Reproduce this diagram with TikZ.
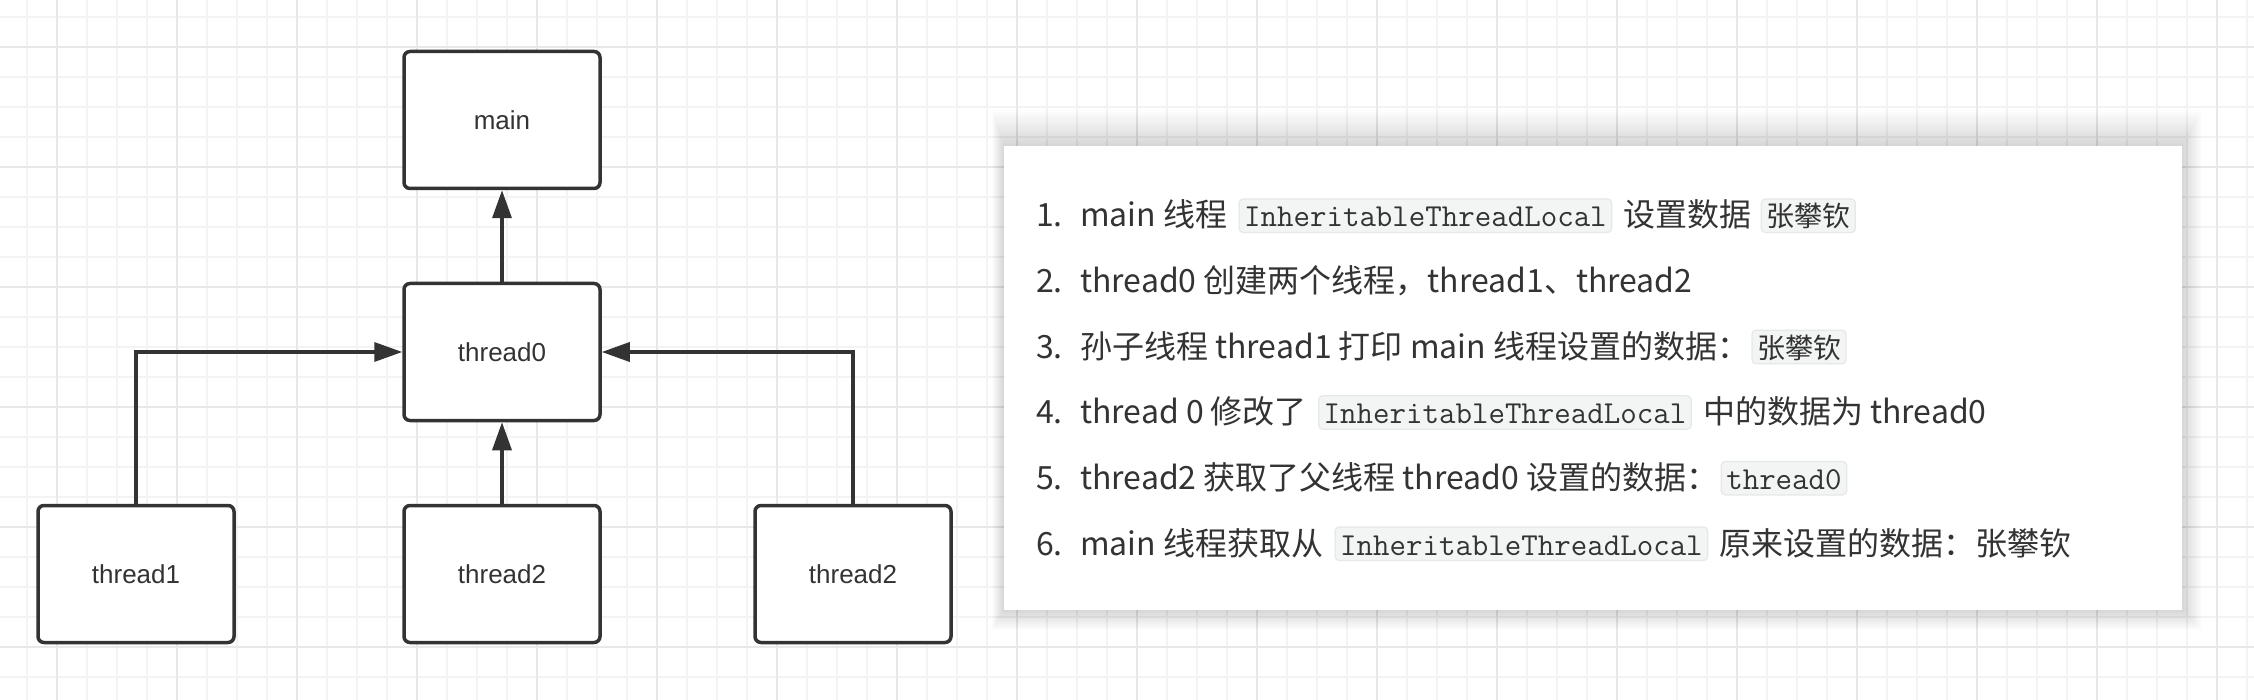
\documentclass[tikz,border=0pt]{standalone}
\usepackage{fontspec}
\setmainfont{Liberation Sans}
\newfontfamily\cjk{Noto Sans CJK SC}
\usetikzlibrary{arrows.meta}
\definecolor{ink}{HTML}{333333}
\definecolor{gridminor}{HTML}{F3F3F3}
\definecolor{gridmajor}{HTML}{E8E8E8}
\definecolor{codebg}{HTML}{F3F4F4}
\definecolor{codeline}{HTML}{E5E8EB}
\tikzset{
  minorgrid/.style={draw=gridminor, line width=1.5pt},
  majorgrid/.style={draw=gridmajor, line width=1.8pt},
  threadbox/.style={draw=ink, fill=white, line width=3.5pt, rounded corners=6pt,
    minimum width=196pt, minimum height=137pt, inner sep=0pt,
    font=\fontsize{26}{30}\selectfont, text=ink},
  conn/.style={draw=ink, line width=3.5pt, -{Triangle[length=28pt,width=19pt]}},
  ptxt/.style={inner sep=0pt, anchor=base west, font=\cjk\fontsize{32}{38}\selectfont, text=ink},
  codebox/.style={anchor=base west, fill=codebg, draw=codeline, line width=1.2pt,
    rounded corners=4pt, inner xsep=5pt, inner ysep=0pt, text height=28pt, text depth=5.5pt,
    font=\ttfamily\fontsize{32}{32}\selectfont, text=ink},
  cjkbox/.style={codebox, font=\cjk\fontsize{28}{28}\selectfont}
}
\begin{document}
\begin{tikzpicture}[x=1pt,y=-1pt]
\useasboundingbox (0,0) rectangle (2254,700);
\fill[white] (0,0) rectangle (2254,700);
% grid
\foreach \i in {0,...,75} {\draw[minorgrid] ({27+30*\i},0) -- ({27+30*\i},700);}
\foreach \i in {0,...,23} {\draw[minorgrid] (0,{17+30*\i}) -- (2254,{17+30*\i});}
\foreach \i in {0,...,18} {\draw[majorgrid] ({57+120*\i},0) -- ({57+120*\i},700);}
\foreach \i in {0,...,5} {\draw[majorgrid] (0,{47+120*\i}) -- (2254,{47+120*\i});}
% nodes
\node[threadbox] (main) at (502,120) {main};
\node[threadbox] (thread0) at (502,352) {thread0};
\node[threadbox] (thread1) at (136,574) {thread1};
\node[threadbox] (thread2) at (502,574) {thread2};
\node[threadbox] (thread2b) at (853,574) {thread2};
% connectors
\draw[conn] (thread0) -- (main);
\draw[conn] (thread2) -- (thread0);
\draw[conn] (thread1.north) |- (thread0.west);
\draw[conn] (thread2b.north) |- (thread0.east);
% panel shadow
\foreach \i in {1,...,20} {\fill[black, opacity=0.008] ({1004-0.6*\i},{146-1.8*\i}) rectangle ({2182+\i},{610+\i});}
\fill[white] (1004,146) rectangle (2182,610);
% line 1
\node[ptxt] (n1) at (1036,227) {1.};
\node[ptxt] (a1) at (1080,227) {main 线程};
\node[codebox] (c1) at ([xshift=11pt]a1.base east) {InheritableThreadLocal};
\node[ptxt] (b1) at ([xshift=11pt]c1.base east) {设置数据};
\node[cjkbox] (d1) at ([xshift=9pt]b1.base east) {张攀钦};
% line 2
\node[ptxt] (n2) at (1036,292.6) {2.};
\node[ptxt] (a2) at (1080,292.6) {thread0 创建两个线程，thread1、thread2};
% line 3
\node[ptxt] (n3) at (1036,358.2) {3.};
\node[ptxt] (a3) at (1080,358.2) {孙子线程 thread1 打印 main 线程设置的数据：};
\node[cjkbox] (d3) at ([xshift=2pt]a3.base east) {张攀钦};
% line 4
\node[ptxt] (n4) at (1036,423.8) {4.};
\node[ptxt] (a4) at (1080,423.8) {thread 0 修改了};
\node[codebox] (c4) at ([xshift=11pt]a4.base east) {InheritableThreadLocal};
\node[ptxt] (b4) at ([xshift=11pt]c4.base east) {中的数据为 thread0};
% line 5
\node[ptxt] (n5) at (1036,489.4) {5.};
\node[ptxt] (a5) at (1080,489.4) {thread2 获取了父线程 thread0 设置的数据：};
\node[codebox] (c5) at ([xshift=2pt]a5.base east) {thread0};
% line 6
\node[ptxt] (n6) at (1036,555) {6.};
\node[ptxt] (a6) at (1080,555) {main 线程获取从};
\node[codebox] (c6) at ([xshift=11pt]a6.base east) {InheritableThreadLocal};
\node[ptxt] (b6) at ([xshift=11pt]c6.base east) {原来设置的数据：张攀钦};
\end{tikzpicture}
\end{document}
